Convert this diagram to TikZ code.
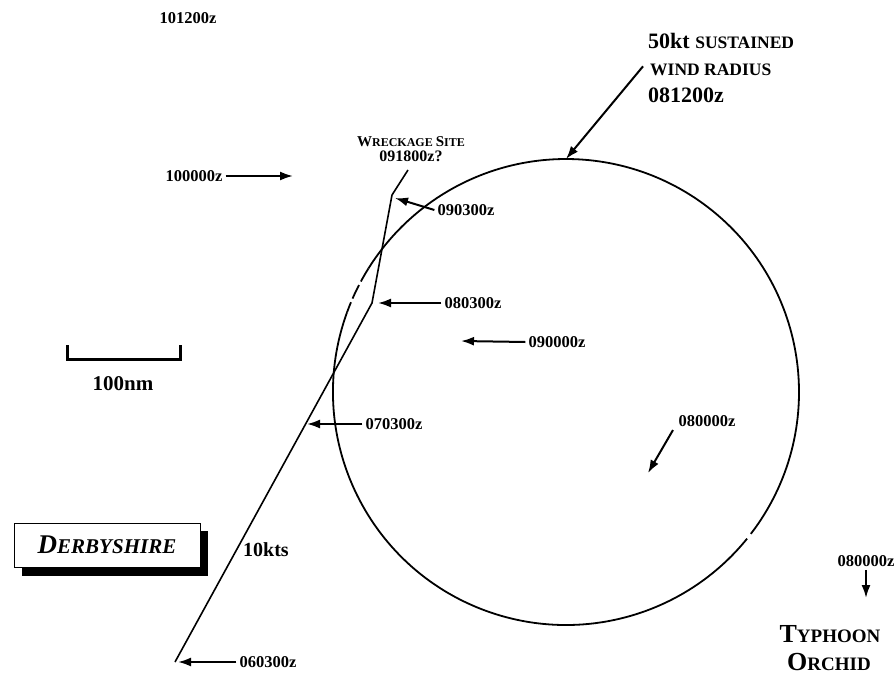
\documentclass[tikz,border=0pt]{standalone}
\usepackage{fontspec}
\setmainfont{Liberation Serif}
\usetikzlibrary{arrows.meta}
\newcommand{\fsz}[1]{\fontsize{#1}{#1}\selectfont}
\begin{document}
\begin{tikzpicture}[x=1pt,y=1pt,
  lbl/.style={font=\bfseries\fsz{16.5}, inner sep=3pt},
  big/.style={font=\bfseries, inner sep=0pt},
  arr/.style={line width=2pt, -{Latex[length=13pt,width=9pt]}},
  trk/.style={line width=1.6pt, line join=round},
  circ/.style={line width=1.8pt}]
\useasboundingbox (0,0) rectangle (894,-696);

% storm circle
\coordinate (O) at (566,-392);
\coordinate (ctop) at (566,-159);
\draw[circ] (O) ++(160:233pt) arc[start angle=160, end angle=321, radius=233pt];
\draw[circ] (O) ++(322.5:233pt) arc[start angle=322.5, end angle=508, radius=233pt];
\draw[circ, dash pattern=on 15pt off 4pt] (O) ++(148:233pt) arc[start angle=148, end angle=160, radius=233pt];

% ship track
\coordinate (A) at (175,-662);
\coordinate (B) at (372,-303);
\coordinate (C) at (392,-195);
\coordinate (D) at (408,-170);
\draw[trk] (A) -- (B) -- (C) -- (D);

% labels
\node[lbl] (t101) at (188,-18) {101200z};

\node[lbl] (t100) at (194,-176) {100000z};
\coordinate (p100) at (293,-176);
\draw[arr] (t100.east) -- (p100);

\node[big, anchor=base] (w1) at (411,-146) {\fsz{15}W\fsz{12}RECKAGE \fsz{15}S\fsz{12}ITE};
\node[big, anchor=base] (w2) at (411,-161) {\fsz{16}091800z?};

\node[lbl] (t0903) at (466,-210) {090300z};
\coordinate (p0903) at (395,-198);
\draw[arr] (t0903.west) -- (p0903);

\node[lbl] (t0803) at (473,-303) {080300z};
\coordinate (p0803) at (378,-303);
\draw[arr] (t0803.west) -- (p0803);

\node[lbl] (t0900) at (557,-342) {090000z};
\coordinate (p0900) at (461,-341);
\draw[arr] (t0900.west) -- (p0900);

\node[lbl] (t0703) at (394,-424) {070300z};
\coordinate (p0703) at (307,-424);
\draw[arr] (t0703.west) -- (p0703);

\node[lbl] (t0603) at (268,-662) {060300z};
\coordinate (p0603) at (178,-662);
\draw[arr] (t0603.west) -- (p0603);

\node[lbl] (t0800a) at (707,-421) {080000z};
\coordinate (q0800a) at (673,-430);
\coordinate (p0800a) at (648,-473);
\draw[arr] (q0800a) -- (p0800a);

\node[lbl] (t0800b) at (866,-561) {080000z};
\coordinate (p0800b) at (866,-598);
\draw[arr] (t0800b.south) -- (p0800b);

% 50kt wind radius
\node[big, anchor=base west] (k1) at (648,-48) {\fsz{22}50kt \fsz{17.5}SUSTAINED};
\node[big, anchor=base west] (k2) at (650,-75) {\fsz{17.5}WIND RADIUS};
\node[big, anchor=base west] (k3) at (648,-102) {\fsz{22}081200z};
\draw[arr] ([xshift=-7pt,yshift=3pt]k2.west) -- (ctop);

% typhoon
\node[big, anchor=base] (ty1) at (830,-642) {\fsz{26}T\fsz{19}YPHOON};
\node[big, anchor=base] (ty2) at (829,-670) {\fsz{26}O\fsz{19}RCHID};

% scale bar
\draw[line width=3pt] (67,-345) -- (67,-359) -- (180,-359) -- (180,-345);
\node[big] (nm) at (123,-384) {\fsz{21}100nm};

% Derbyshire box
\fill (22,-531) rectangle (208,-576);
\node[draw, line width=1pt, fill=white, minimum width=186pt, minimum height=44pt, inner sep=0pt,
      font=\bfseries\itshape] (derby) at (107,-545) {\fsz{27}D\fsz{21}ERBYSHIRE};

\node[big] (kts) at (266,-550) {\fsz{20}10kts};
\end{tikzpicture}
\end{document}
